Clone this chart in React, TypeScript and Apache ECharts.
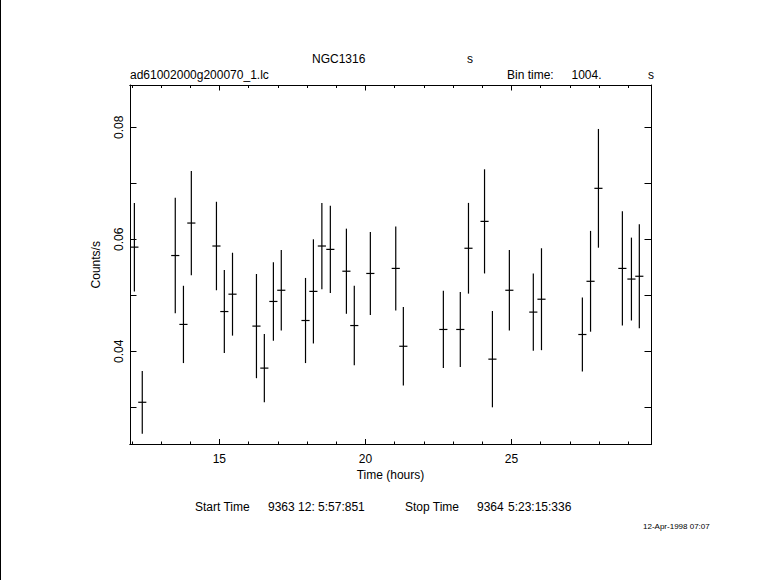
import React, { useEffect, useRef } from "react";
import * as echarts from "echarts";

// Light curve data (hours, counts/s, 1-sigma error)
const times = [
  12.09, 12.36, 13.49, 13.77, 14.04, 14.9, 15.17, 15.45, 16.27, 16.54, 16.85,
  17.12, 17.95, 18.22, 18.51, 18.8, 19.35, 19.62, 20.17, 21.04, 21.3, 22.67,
  23.25, 23.53, 24.08, 24.35, 24.93, 25.75, 26.03, 27.43, 27.71, 27.98, 28.8,
  29.11, 29.38,
];
const rates = [
  0.0586, 0.0309, 0.0571, 0.0448, 0.0629, 0.0588, 0.0471, 0.0502, 0.0445,
  0.037, 0.0489, 0.0509, 0.0455, 0.0507, 0.0588, 0.0582, 0.0543, 0.0446,
  0.0539, 0.0548, 0.0409, 0.0439, 0.0439, 0.0584, 0.0632, 0.0386, 0.0509,
  0.047, 0.0493, 0.043, 0.0525, 0.0691, 0.0548, 0.0529, 0.0534,
];
const errors = [
  0.0079, 0.0056, 0.0103, 0.0069, 0.0093, 0.0079, 0.0074, 0.0074, 0.0093,
  0.0061, 0.007, 0.0072, 0.0076, 0.0093, 0.0077, 0.0078, 0.0076, 0.0071,
  0.0074, 0.0075, 0.007, 0.0069, 0.0067, 0.0081, 0.0093, 0.0086, 0.0072,
  0.0069, 0.0091, 0.0066, 0.009, 0.0106, 0.0102, 0.0074, 0.0093,
];
const binTimeSec = 1004;
const xMajorTicks = [15, 20, 25];
const xMinorTicks = [12, 13, 14, 15, 16, 17, 18, 19, 20, 21, 22, 23, 24, 25, 26, 27, 28, 29];
const yTicks = [0.03, 0.04, 0.05, 0.06, 0.07, 0.08];
const yLabelValues = [0.04, 0.06, 0.08];

const X_MIN = 11.94;
const X_MAX = 29.78;
const Y_MIN = 0.02336;
const Y_MAX = 0.08755;

export default function App() {
  const ref = useRef<HTMLDivElement>(null);
  useEffect(() => {
    const chart = echarts.init(ref.current!, null, { renderer: "svg" });
    const font = "'Liberation Sans', Arial, Helvetica, sans-serif";
    const halfBin = binTimeSec / 3600 / 2;
    const lineStyle = { color: "#000", width: 1 };
    const xBase = (pos: string, ticks: number[], len: number, labels: boolean, extra: any = {}) => ({
      type: "value",
      position: pos,
      min: X_MIN,
      max: X_MAX,
      splitLine: { show: false },
      axisLine: { show: true, onZero: false, lineStyle },
      axisTick: { show: true, inside: true, length: len, customValues: ticks, lineStyle },
      axisLabel: labels
        ? { show: true, customValues: xMajorTicks, color: "#000", fontSize: 12, fontFamily: font, margin: 8 }
        : { show: false },
      ...extra,
    });
    const yBase = (pos: string, labels: boolean, extra: any = {}) => ({
      type: "value",
      position: pos,
      min: Y_MIN,
      max: Y_MAX,
      splitLine: { show: false },
      axisLine: { show: true, onZero: false, lineStyle },
      axisTick: { show: true, inside: true, length: 6.5, customValues: yTicks, lineStyle },
      axisLabel: labels
        ? {
            show: true,
            customValues: yLabelValues,
            rotate: 90,
            color: "#000",
            fontSize: 12,
            fontFamily: font,
            margin: 5,
            formatter: (v: number) => v.toFixed(2),
          }
        : { show: false },
      ...extra,
    });
    const txt = (text: string, x: number, y: number, size = 12, align = "left") => ({
      type: "text",
      x,
      y,
      style: {
        text,
        fill: "#000",
        fontSize: size,
        fontFamily: font,
        align,
        verticalAlign: "middle",
      },
    });

    chart.setOption({
      animation: false,
      backgroundColor: "#fff",
      grid: { left: 130, top: 85, width: 521, height: 359.5, containLabel: false },
      xAxis: [
        xBase("bottom", xMajorTicks, 5.5, true, {
          name: "Time (hours)",
          nameLocation: "middle",
          nameGap: 22,
          nameTextStyle: { color: "#000", fontSize: 12, fontFamily: font },
        }),
        xBase("bottom", xMinorTicks, 3, false),
        xBase("top", xMajorTicks, 5.5, false),
        xBase("top", xMinorTicks, 3, false),
      ],
      yAxis: [
        yBase("left", true, {
          name: "Counts/s",
          nameLocation: "middle",
          nameGap: 28,
          nameTextStyle: { color: "#000", fontSize: 12, fontFamily: font },
        }),
        yBase("right", false),
      ],
      graphic: [
        { type: "rect", shape: { x: 0, y: 0, width: 1, height: 580 }, style: { fill: "#000" } },
        txt("NGC1316", 312, 59),
        txt("s", 467, 59),
        txt("ad61002000g200070_1.lc", 130, 75),
        txt("Bin time:", 507, 75),
        txt("1004.", 571.5, 75),
        txt("s", 648, 75),
        txt("Start Time", 195, 507),
        txt("9363 12: 5:57:851", 268, 507),
        txt("Stop Time", 405, 507),
        txt("9364", 477, 507),
        txt("5:23:15:336", 508, 507),
        txt("12-Apr-1998 07:07", 643, 526, 8),
      ],
      series: [
        {
          type: "custom",
          xAxisIndex: 0,
          yAxisIndex: 0,
          clip: false,
          encode: { x: 0, y: 1 },
          data: times.map((t, i) => [t, rates[i], errors[i]]),
          renderItem: (_params: any, api: any) => {
            const x = api.value(0);
            const y = api.value(1);
            const e = api.value(2);
            const top = api.coord([x, y + e]);
            const bot = api.coord([x, y - e]);
            const l = api.coord([x - halfBin, y]);
            const r = api.coord([x + halfBin, y]);
            const st = { stroke: "#000", lineWidth: 1.2 };
            return {
              type: "group",
              children: [
                { type: "line", shape: { x1: top[0], y1: top[1], x2: bot[0], y2: bot[1] }, style: st },
                { type: "line", shape: { x1: l[0], y1: l[1], x2: r[0], y2: r[1] }, style: st },
              ],
            };
          },
        },
      ],
    });
    return () => chart.dispose();
  }, []);
  return (
    <div
      ref={ref}
      style={{ position: "fixed", left: 0, top: 0, width: 781, height: 580, background: "#fff" }}
    />
  );
}
